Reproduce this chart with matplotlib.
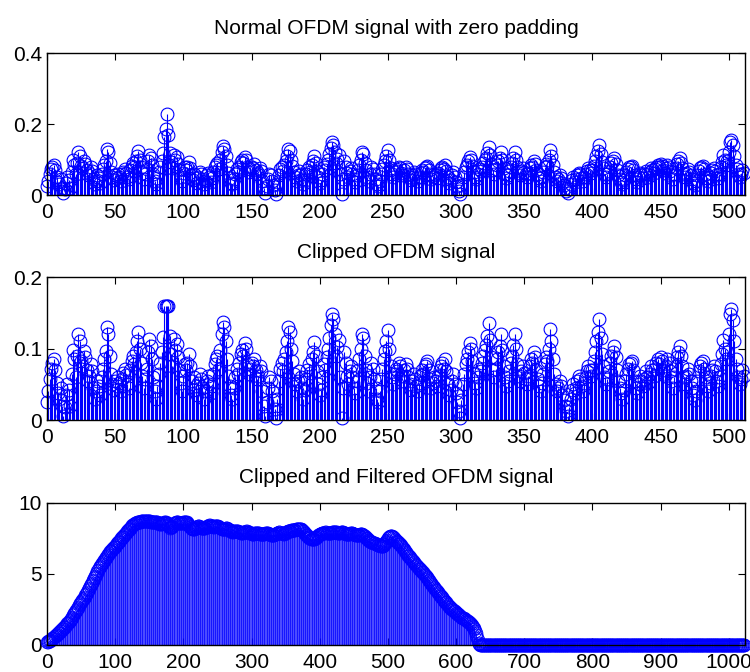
import numpy as np
import matplotlib
matplotlib.use('Agg')
import matplotlib.pyplot as plt

plt.rcParams['font.family'] = ['Liberation Sans', 'DejaVu Sans']
plt.rcParams['font.size'] = 15

# |x| of the OFDM block (zero padded), 512 samples
amp = [
    0.025, 0.040, 0.058, 0.072, 0.080, 0.085, 0.070, 0.052, 0.038, 0.030, 0.045, 0.020, 0.005, 0.018, 0.035, 0.050,
    0.042, 0.020, 0.065, 0.098, 0.085, 0.060, 0.090, 0.120, 0.110, 0.082, 0.075, 0.096, 0.088, 0.070, 0.055, 0.062,
    0.078, 0.068, 0.045, 0.030, 0.040, 0.055, 0.048, 0.035, 0.060, 0.072, 0.085, 0.097, 0.130, 0.121, 0.090, 0.065,
    0.050, 0.042, 0.055, 0.048, 0.060, 0.052, 0.040, 0.058, 0.066, 0.072, 0.063, 0.050, 0.045, 0.070, 0.082, 0.090,
    0.078, 0.095, 0.110, 0.124, 0.100, 0.080, 0.062, 0.045, 0.058, 0.072, 0.095, 0.113, 0.104, 0.085, 0.060, 0.040,
    0.030, 0.048, 0.065, 0.080, 0.095, 0.117, 0.163, 0.185, 0.227, 0.170, 0.118, 0.092, 0.075, 0.113, 0.098, 0.106,
    0.088, 0.070, 0.052, 0.040, 0.062, 0.078, 0.070, 0.080, 0.092, 0.075, 0.055, 0.042, 0.060, 0.048, 0.035, 0.052,
    0.064, 0.058, 0.045, 0.030, 0.040, 0.055, 0.062, 0.050, 0.038, 0.048, 0.065, 0.078, 0.085, 0.090, 0.072, 0.098,
    0.120, 0.137, 0.130, 0.110, 0.085, 0.062, 0.048, 0.035, 0.030, 0.045, 0.060, 0.072, 0.065, 0.080, 0.092, 0.098,
    0.090, 0.108, 0.100, 0.078, 0.065, 0.072, 0.080, 0.075, 0.086, 0.070, 0.058, 0.062, 0.075, 0.068, 0.040, 0.020,
    0.005, 0.025, 0.045, 0.060, 0.055, 0.040, 0.028, 0.015, 0.003, 0.030, 0.055, 0.072, 0.080, 0.068, 0.085, 0.095,
    0.110, 0.131, 0.124, 0.100, 0.082, 0.065, 0.050, 0.040, 0.055, 0.068, 0.060, 0.045, 0.030, 0.042, 0.058, 0.070,
    0.078, 0.066, 0.085, 0.095, 0.109, 0.090, 0.068, 0.050, 0.035, 0.042, 0.060, 0.078, 0.070, 0.088, 0.100, 0.115,
    0.133, 0.148, 0.141, 0.120, 0.090, 0.102, 0.112, 0.060, 0.003, 0.045, 0.095, 0.080, 0.062, 0.050, 0.068, 0.075,
    0.060, 0.045, 0.038, 0.055, 0.070, 0.085, 0.100, 0.121, 0.115, 0.090, 0.070, 0.052, 0.040, 0.060, 0.080, 0.072,
    0.058, 0.045, 0.030, 0.025, 0.040, 0.058, 0.072, 0.085, 0.096, 0.110, 0.126, 0.100, 0.075, 0.060, 0.050, 0.065,
    0.072, 0.068, 0.080, 0.075, 0.062, 0.055, 0.070, 0.078, 0.072, 0.060, 0.050, 0.042, 0.055, 0.065, 0.058, 0.048,
    0.040, 0.052, 0.063, 0.070, 0.065, 0.075, 0.078, 0.082, 0.070, 0.058, 0.045, 0.052, 0.060, 0.055, 0.048, 0.062,
    0.070, 0.075, 0.080, 0.072, 0.085, 0.068, 0.050, 0.035, 0.042, 0.055, 0.065, 0.050, 0.038, 0.025, 0.012, 0.003,
    0.028, 0.050, 0.065, 0.078, 0.085, 0.095, 0.108, 0.100, 0.082, 0.065, 0.052, 0.045, 0.060, 0.072, 0.068, 0.080,
    0.090, 0.098, 0.105, 0.118, 0.136, 0.112, 0.088, 0.070, 0.060, 0.072, 0.085, 0.095, 0.104, 0.120, 0.098, 0.075,
    0.060, 0.048, 0.055, 0.068, 0.080, 0.090, 0.105, 0.121, 0.100, 0.078, 0.062, 0.055, 0.068, 0.075, 0.066, 0.058,
    0.050, 0.062, 0.075, 0.085, 0.080, 0.095, 0.088, 0.070, 0.058, 0.048, 0.040, 0.052, 0.065, 0.078, 0.088, 0.082,
    0.100, 0.127, 0.110, 0.085, 0.065, 0.050, 0.040, 0.045, 0.055, 0.048, 0.035, 0.028, 0.020, 0.012, 0.005, 0.018,
    0.030, 0.042, 0.050, 0.038, 0.045, 0.055, 0.062, 0.058, 0.048, 0.040, 0.052, 0.060, 0.068, 0.075, 0.070, 0.062,
    0.070, 0.082, 0.095, 0.110, 0.124, 0.141, 0.115, 0.092, 0.075, 0.060, 0.050, 0.058, 0.068, 0.080, 0.090, 0.095,
    0.103, 0.088, 0.070, 0.055, 0.045, 0.038, 0.030, 0.042, 0.055, 0.065, 0.072, 0.078, 0.080, 0.083, 0.070, 0.055,
    0.045, 0.038, 0.050, 0.062, 0.055, 0.048, 0.058, 0.068, 0.060, 0.052, 0.065, 0.075, 0.070, 0.062, 0.072, 0.080,
    0.085, 0.078, 0.088, 0.082, 0.070, 0.062, 0.075, 0.085, 0.080, 0.068, 0.055, 0.045, 0.060, 0.075, 0.088, 0.095,
    0.104, 0.090, 0.075, 0.060, 0.050, 0.062, 0.072, 0.065, 0.055, 0.045, 0.035, 0.028, 0.040, 0.055, 0.068, 0.075,
    0.080, 0.083, 0.072, 0.060, 0.048, 0.040, 0.052, 0.062, 0.070, 0.076, 0.068, 0.055, 0.048, 0.060, 0.078, 0.092,
    0.112, 0.100, 0.085, 0.095, 0.120, 0.148, 0.155, 0.140, 0.110, 0.085, 0.072, 0.060, 0.050, 0.058, 0.070, 0.062,
]
clip_level = 0.16

# magnitude after clipping + filtering, 1024 samples (rest of the block is zero)
filtered = [
    0.20, 0.22, 0.25, 0.28, 0.31, 0.35, 0.38, 0.42, 0.46, 0.50, 0.55, 0.60, 0.64, 0.68, 0.72, 0.77,
    0.82, 0.87, 0.92, 0.96, 1.00, 1.05, 1.09, 1.14, 1.19, 1.24, 1.29, 1.35, 1.40, 1.45, 1.51, 1.57,
    1.63, 1.70, 1.77, 1.84, 1.92, 2.00, 2.08, 2.15, 2.22, 2.29, 2.37, 2.45, 2.54, 2.62, 2.70, 2.78,
    2.86, 2.93, 3.00, 3.07, 3.14, 3.22, 3.31, 3.40, 3.49, 3.58, 3.66, 3.74, 3.83, 3.93, 4.03, 4.12,
    4.21, 4.30, 4.39, 4.48, 4.58, 4.68, 4.78, 4.88, 4.98, 5.08, 5.18, 5.28, 5.38, 5.48, 5.56, 5.63,
    5.70, 5.76, 5.82, 5.88, 5.95, 6.03, 6.11, 6.20, 6.28, 6.35, 6.42, 6.48, 6.53, 6.58, 6.63, 6.68,
    6.73, 6.79, 6.85, 6.91, 6.97, 7.03, 7.09, 7.15, 7.21, 7.27, 7.33, 7.39, 7.45, 7.51, 7.57, 7.62,
    7.67, 7.72, 7.77, 7.82, 7.88, 7.94, 8.00, 8.06, 8.12, 8.18, 8.24, 8.30, 8.35, 8.40, 8.44, 8.48,
    8.52, 8.55, 8.58, 8.60, 8.62, 8.63, 8.64, 8.65, 8.66, 8.67, 8.68, 8.69, 8.70, 8.70, 8.71, 8.71,
    8.72, 8.72, 8.73, 8.73, 8.72, 8.71, 8.70, 8.68, 8.66, 8.65, 8.64, 8.64, 8.65, 8.66, 8.67, 8.67,
    8.66, 8.64, 8.61, 8.58, 8.55, 8.52, 8.50, 8.50, 8.52, 8.55, 8.58, 8.60, 8.62, 8.63, 8.62, 8.60,
    8.56, 8.50, 8.42, 8.34, 8.28, 8.25, 8.26, 8.30, 8.36, 8.43, 8.50, 8.56, 8.60, 8.62, 8.63, 8.63,
    8.62, 8.60, 8.58, 8.56, 8.55, 8.55, 8.56, 8.58, 8.61, 8.64, 8.66, 8.67, 8.66, 8.63, 8.58, 8.52,
    8.45, 8.38, 8.31, 8.25, 8.20, 8.17, 8.15, 8.15, 8.17, 8.20, 8.24, 8.28, 8.31, 8.33, 8.34, 8.33,
    8.31, 8.28, 8.25, 8.22, 8.20, 8.19, 8.20, 8.22, 8.25, 8.28, 8.31, 8.34, 8.37, 8.39, 8.40, 8.40,
    8.39, 8.37, 8.35, 8.33, 8.32, 8.32, 8.33, 8.35, 8.36, 8.37, 8.37, 8.35, 8.32, 8.28, 8.24, 8.20,
    8.17, 8.15, 8.14, 8.14, 8.15, 8.17, 8.19, 8.20, 8.20, 8.18, 8.15, 8.11, 8.07, 8.03, 8.00, 7.98,
    7.97, 7.97, 7.98, 8.00, 8.02, 8.03, 8.03, 8.02, 8.00, 7.97, 7.94, 7.91, 7.89, 7.88, 7.88, 7.89,
    7.91, 7.93, 7.95, 7.97, 7.98, 7.98, 7.97, 7.95, 7.93, 7.90, 7.87, 7.85, 7.83, 7.82, 7.82, 7.83,
    7.85, 7.87, 7.89, 7.90, 7.90, 7.89, 7.87, 7.85, 7.82, 7.80, 7.78, 7.77, 7.77, 7.78, 7.80, 7.82,
    7.84, 7.85, 7.86, 7.86, 7.85, 7.83, 7.80, 7.77, 7.74, 7.72, 7.71, 7.71, 7.72, 7.74, 7.77, 7.80,
    7.83, 7.86, 7.88, 7.90, 7.91, 7.91, 7.90, 7.88, 7.86, 7.84, 7.83, 7.83, 7.84, 7.86, 7.89, 7.92,
    7.95, 7.98, 8.00, 8.02, 8.03, 8.04, 8.05, 8.06, 8.07, 8.08, 8.09, 8.10, 8.11, 8.12, 8.13, 8.14,
    8.15, 8.16, 8.17, 8.17, 8.16, 8.13, 8.09, 8.04, 7.98, 7.92, 7.86, 7.80, 7.75, 7.70, 7.66, 7.62,
    7.58, 7.54, 7.50, 7.47, 7.45, 7.44, 7.44, 7.45, 7.47, 7.50, 7.54, 7.58, 7.62, 7.66, 7.70, 7.74,
    7.77, 7.80, 7.83, 7.85, 7.87, 7.88, 7.89, 7.90, 7.91, 7.91, 7.90, 7.89, 7.88, 7.87, 7.87, 7.88,
    7.89, 7.90, 7.92, 7.94, 7.95, 7.96, 7.96, 7.95, 7.93, 7.91, 7.89, 7.88, 7.88, 7.89, 7.90, 7.92,
    7.93, 7.93, 7.92, 7.90, 7.87, 7.84, 7.81, 7.79, 7.78, 7.78, 7.79, 7.81, 7.83, 7.85, 7.86, 7.86,
    7.85, 7.83, 7.80, 7.77, 7.74, 7.72, 7.71, 7.71, 7.72, 7.74, 7.76, 7.78, 7.79, 7.79, 7.78, 7.76,
    7.73, 7.69, 7.65, 7.60, 7.55, 7.50, 7.45, 7.40, 7.36, 7.32, 7.29, 7.26, 7.24, 7.22, 7.20, 7.18,
    7.16, 7.14, 7.12, 7.10, 7.08, 7.06, 7.04, 7.02, 7.00, 6.98, 6.97, 6.96, 6.96, 6.98, 7.02, 7.08,
    7.15, 7.23, 7.32, 7.41, 7.49, 7.56, 7.62, 7.66, 7.68, 7.68, 7.66, 7.62, 7.57, 7.52, 7.46, 7.40,
    7.34, 7.29, 7.25, 7.21, 7.17, 7.12, 7.07, 7.01, 6.95, 6.88, 6.81, 6.74, 6.67, 6.60, 6.53, 6.46,
    6.40, 6.34, 6.28, 6.22, 6.16, 6.10, 6.05, 6.00, 5.95, 5.89, 5.83, 5.77, 5.71, 5.65, 5.59, 5.53,
    5.48, 5.43, 5.37, 5.32, 5.26, 5.21, 5.15, 5.10, 5.04, 4.99, 4.94, 4.89, 4.84, 4.78, 4.72, 4.65,
    4.58, 4.51, 4.44, 4.37, 4.30, 4.23, 4.16, 4.09, 4.02, 3.95, 3.89, 3.83, 3.77, 3.71, 3.65, 3.59,
    3.53, 3.47, 3.41, 3.35, 3.29, 3.23, 3.17, 3.11, 3.05, 2.99, 2.93, 2.87, 2.81, 2.75, 2.70, 2.65,
    2.60, 2.56, 2.52, 2.48, 2.44, 2.40, 2.36, 2.32, 2.28, 2.24, 2.20, 2.16, 2.12, 2.08, 2.04, 2.00,
    1.96, 1.93, 1.90, 1.87, 1.84, 1.81, 1.78, 1.75, 1.72, 1.69, 1.65, 1.61, 1.57, 1.52, 1.47, 1.41,
    1.35, 1.28, 1.20, 1.10, 0.98, 0.84, 0.68, 0.50, 0.32, 0.16, 0.06, 0.02,
] + [0.0] * 388

titles = ['Normal OFDM signal with zero padding',
          'Clipped OFDM signal',
          'Clipped and Filtered OFDM signal']


def draw_stem(ax, y, lw=0.8, mew=0.8):
    n = np.arange(len(y))
    markerline, stemlines, baseline = ax.stem(n, y, linefmt='b-', markerfmt='o')
    markerline.set_color('blue')
    markerline.set_markerfacecolor('none')
    markerline.set_markersize(9.2)
    markerline.set_markeredgewidth(mew)
    markerline.set_clip_on(False)
    stemlines.set_linewidth(lw)
    baseline.set_visible(False)


def style_axes(ax):
    ax.tick_params(direction='in', top=True, right=True, length=5, width=0.8,
                   labelsize=15)
    ax.tick_params(axis='x', pad=6)
    ax.tick_params(axis='y', pad=3.5)
    for s in ax.spines.values():
        s.set_linewidth(1.0)


fig = plt.figure(figsize=(7.5, 6.72), dpi=100)

ax1 = fig.add_axes([0.0627, 0.7098, 0.9307, 0.2113])
draw_stem(ax1, amp)
ax1.set_xlim(0, 512)
ax1.set_ylim(0, 0.4)
ax1.set_xticks(np.arange(0, 501, 50))
ax1.set_yticks([0, 0.2, 0.4])
ax1.set_yticklabels(['0', '0.2', '0.4'])
ax1.set_title(titles[0], fontsize=15, pad=14)
style_axes(ax1)

ax2 = fig.add_axes([0.0627, 0.375, 0.9307, 0.2124])
draw_stem(ax2, np.minimum(amp, clip_level))
ax2.set_xlim(0, 512)
ax2.set_ylim(0, 0.2)
ax2.set_xticks(np.arange(0, 501, 50))
ax2.set_yticks([0, 0.1, 0.2])
ax2.set_yticklabels(['0', '0.1', '0.2'])
ax2.set_title(titles[1], fontsize=15, pad=14)
style_axes(ax2)

ax3 = fig.add_axes([0.0627, 0.0402, 0.9307, 0.2118])
# 1024 stems share ~700 px, so thinner strokes keep the stripes visible
draw_stem(ax3, filtered, lw=0.5, mew=0.6)
ax3.set_xlim(0, 1024)
ax3.set_ylim(0, 10)
ax3.set_xticks(np.arange(0, 1001, 100))
ax3.set_yticks([0, 5, 10])
ax3.set_title(titles[2], fontsize=15, pad=14)
style_axes(ax3)

fig.savefig('out.png', dpi=100)
